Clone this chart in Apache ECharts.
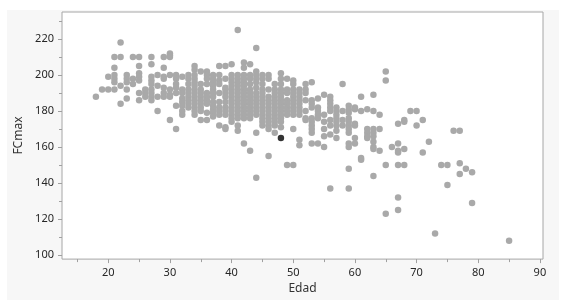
<!DOCTYPE html>
<html><head><meta charset="utf-8">
<script src="https://cdn.jsdelivr.net/npm/echarts@6/dist/echarts.min.js"></script>
<style>
html,body{margin:0;padding:0;background:#fff}
#wrap{position:relative;width:565px;height:300px;overflow:hidden}
#panel{position:absolute;left:7px;top:10px;width:552px;height:290px;background:#f7f7f7}
#c{position:absolute;left:0;top:0;width:565px;height:300px}
</style>
</head><body>
<div id="wrap"><div id="panel"></div><div id="c"></div></div>
<script>
// Edad (age) values and the FCmax readings observed at each age
const edades = [18,19,20,21,22,23,24,25,26,27,28,29,30,31,32,33,34,35,36,37,38,39,40,41,42,43,44,45,46,47,48,49,50,51,52,53,54,55,56,57,58,59,60,61,62,63,64,65,66,67,68,69,70,71,72,73,74,75,76,77,78,79,85];
const fcmaxPorEdad = [
  [188],
  [192],
  [199,192],
  [210,204,200,198,196,192],
  [218,210,194,184],
  [200,198,196,192,187],
  [210,198,195],
  [210,205,201,199,197,190,186],
  [192,190,188],
  [210,206,199,197,195,192,190,188,186],
  [200,194,188,180],
  [210,204,199,198,193,190,188],
  [212,211,210,200,192,189,188,175],
  [200,198,195,193,190,183,170],
  [199,192,190,187,185,183,180,178],
  [200,198,195,192,190,188,186,184,182],
  [205,203,200,198,196,194,192,190,188,186,184,182,180,178],
  [202,195,192,190,188,186,184,182,180,175],
  [202,200,198,195,190,188,186,184,179,175],
  [200,198,196,194,192,190,188,185,183,181,179,177],
  [205,200,197,195,190,185,182,180,178,172],
  [205,198,193,192,190,188,185,182,180,178,171,170],
  [206,200,198,196,194,192,190,188,186,184,182,180,178,176,174],
  [225,200,198,196,194,192,190,188,186,184,182,180,178,176,172,169],
  [207,204,200,198,196,194,192,190,188,186,184,182,180,178,176,162],
  [206,200,198,195,192,190,188,186,184,182,180,178,176,158],
  [215,202,200,198,196,193,190,188,186,184,182,180,178,168,143],
  [200,198,195,192,190,188,186,184,182,180,178,176,174,172],
  [200,198,192,188,186,184,182,180,178,176,174,172,170,155],
  [195,192,190,188,186,184,182,180,178,176,174,172,168],
  [201,198,195,192,190,188,186,184,182,180,178,176,174,171],
  [198,192,190,186,184,182,180,178,150],
  [197,195,192,190,188,186,184,182,180,178,170,150],
  [192,190,188,186,184,182,180,178,164,161],
  [195,192,190,186,180,176,175],
  [196,186,184,182,176,174,172,170,168,162],
  [187,182,180,178,176,162],
  [189,178,174,170,166,160],
  [188,186,184,182,180,175,172,167,137],
  [182,180,178,176,174,172,169,165],
  [195,180,175,172],
  [183,181,179,176,174,172,170,168,162,160,148,137],
  [182,181,173,172,165,162],
  [188,180,154,153],
  [181,170,168,166,165],
  [189,180,170,168,166,163,160,159,144],
  [178,170,158],
  [202,197,150,123],
  [160],
  [173,162,158,157,150,132,125],
  [175,174,159,150],
  [180],
  [180,172],
  [175,157],
  [163],
  [112],
  [150],
  [150,139],
  [169],
  [169,151,145],
  [148],
  [146,129],
  [108]
];
// Highlighted (selected) row
const destacadoEdad = [48];
const destacadoFC = [165];
// Tick values
const xTicks = [20,30,40,50,60,70,80,90];
const xMinor = [15,25,35,45,55,65,75,85];
const yTicks = [100,120,140,160,180,200,220];
const yMinor = [110,130,150,170,190,210,230];

const puntos = [];
edades.forEach((e,i) => fcmaxPorEdad[i].forEach(v => puntos.push([e, v])));
const destacado = destacadoEdad.map((e,i) => [e, destacadoFC[i]]);

const FONT = 'Noto Sans';
const XMIN = 12.5, XMAX = 90.5, YMIN = 97.8, YMAX = 235;
const tickCol = '#a0a0a0';
const labelStyle = {color:'#262626', fontFamily:FONT, fontSize:11};

const chart = echarts.init(document.getElementById('c'), null, {renderer:'canvas'});
chart.setOption({
  animation:false,
  backgroundColor:'transparent',
  grid:{left:62,right:22,top:12,bottom:37,show:true,backgroundColor:'#ffffff',borderColor:'#a6a6a6',borderWidth:1},
  xAxis:[
    {type:'value',min:XMIN,max:XMAX,position:'bottom',
     axisLine:{show:false},splitLine:{show:false},
     axisTick:{show:true,length:4,customValues:xTicks,lineStyle:{color:tickCol}},
     axisLabel:Object.assign({customValues:xTicks,margin:8},labelStyle),
     name:'Edad',nameLocation:'middle',nameGap:22,
     nameTextStyle:{color:'#333',fontFamily:FONT,fontSize:12}},
    {type:'value',min:XMIN,max:XMAX,position:'bottom',
     axisLine:{show:false},splitLine:{show:false},
     axisTick:{show:true,length:3,customValues:xMinor,lineStyle:{color:tickCol}},
     axisLabel:{show:false}}
  ],
  yAxis:[
    {type:'value',min:YMIN,max:YMAX,position:'left',
     axisLine:{show:false},splitLine:{show:false},
     axisTick:{show:true,length:4,customValues:yTicks,lineStyle:{color:tickCol}},
     axisLabel:Object.assign({customValues:yTicks,margin:8},labelStyle),
     name:'FCmax',nameLocation:'middle',nameGap:32,nameRotate:90,
     nameTextStyle:{color:'#333',fontFamily:FONT,fontSize:12}},
    {type:'value',min:YMIN,max:YMAX,position:'left',
     axisLine:{show:false},splitLine:{show:false},
     axisTick:{show:true,length:3,customValues:yMinor,lineStyle:{color:tickCol}},
     axisLabel:{show:false}}
  ],
  series:[
    {type:'scatter',xAxisIndex:0,yAxisIndex:0,data:puntos,symbol:'circle',symbolSize:6.5,
     itemStyle:{color:'#a9a9a9',opacity:1},silent:true},
    {type:'scatter',xAxisIndex:0,yAxisIndex:0,data:destacado,symbol:'circle',symbolSize:6.5,
     itemStyle:{color:'#000000'},silent:true,z:5}
  ]
});
</script>
</body></html>
